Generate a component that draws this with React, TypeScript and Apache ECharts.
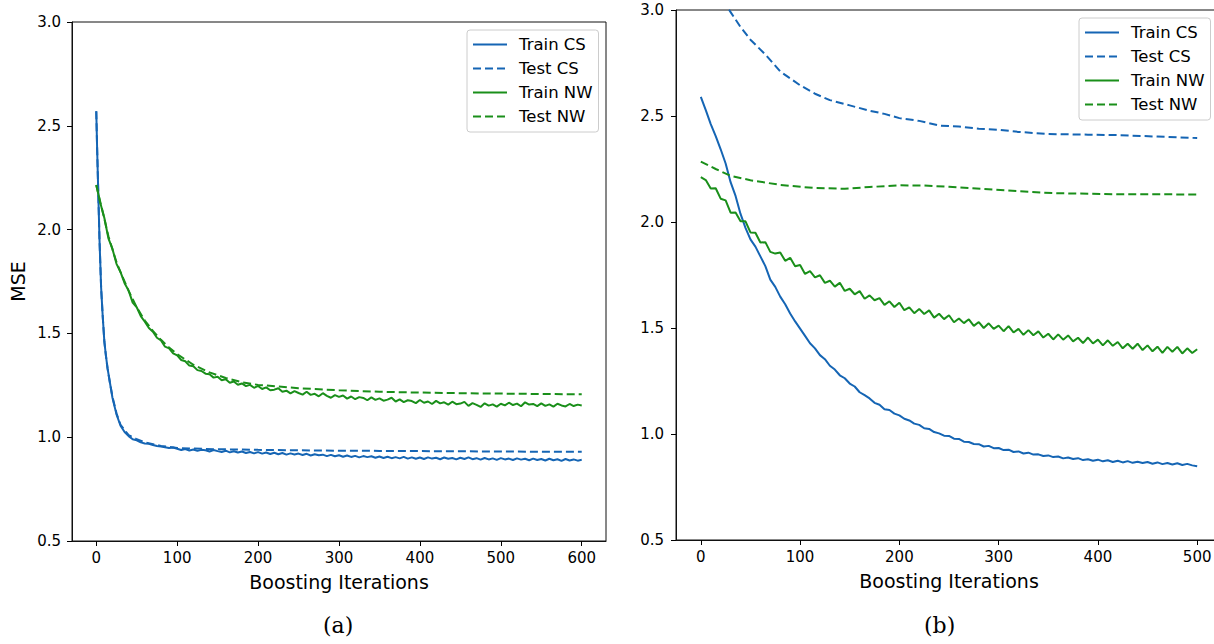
import React, { useEffect, useRef } from "react";
import * as echarts from "echarts";

const BLUE = "#1565b4";
const GREEN = "#1a8f1a";
const FONT = "DejaVu Sans";

const seriesNames = ["Train CS", "Test CS", "Train NW", "Test NW"];
const xTicksA = [0, 100, 200, 300, 400, 500, 600];
const xTicksB = [0, 100, 200, 300, 400, 500];
const panelLabels = ["(a)", "(b)"];
const xAxisTitle = "Boosting Iterations";
const yAxisTitle = "MSE";

function stepRange(start: number, end: number, step: number): number[] {
  const r: number[] = [];
  for (let v = start; v <= end; v += step) r.push(v);
  return r;
}

// ---------- panel (a) ----------
const aTrainCsIters = [0, 1, 2, 3, 4, 6, 8, 10, 12, 14, 17, 20, ...stepRange(25, 600, 5)];
const aTrainCsValues = [
  2.57, 2.4, 2.25, 2.1, 1.95, 1.72, 1.58, 1.46, 1.39, 1.33, 1.26, 1.19,
  1.11, 1.055, 1.025, 1.005, 0.99, 0.985, 0.975, 0.97, 0.968, 0.962, 0.958, 0.955, 0.952, 0.948, 0.95,
  0.944, 0.938, 0.943, 0.936, 0.941, 0.934, 0.939, 0.937, 0.931, 0.938,
  0.933, 0.929, 0.935, 0.927, 0.932, 0.926, 0.931, 0.924, 0.929, 0.922,
  0.928, 0.921, 0.926, 0.919, 0.925, 0.918, 0.924, 0.916, 0.922, 0.917,
  0.921, 0.914, 0.92, 0.912, 0.918, 0.913, 0.916, 0.909, 0.915, 0.908,
  0.913, 0.906, 0.912, 0.905, 0.91, 0.903, 0.909, 0.904, 0.908, 0.901,
  0.907, 0.9, 0.906, 0.899, 0.904, 0.898, 0.905, 0.897, 0.903, 0.896,
  0.902, 0.895, 0.903, 0.897, 0.901, 0.894, 0.902, 0.896, 0.9, 0.893,
  0.901, 0.895, 0.903, 0.894, 0.899, 0.892, 0.9, 0.893, 0.898, 0.891,
  0.899, 0.893, 0.897, 0.89, 0.898, 0.892, 0.896, 0.889, 0.897, 0.89,
  0.895, 0.888, 0.896, 0.889, 0.894, 0.886, 0.895, 0.888, 0.893, 0.887,
  0.891,
];
const aTestCsIters = [0, 1, 2, 3, 4, 6, 8, 10, 12, 14, 17, 20, 25, 30, 40, 50, 60, 80, 100, 150, 200, 250, 300, 350, 400, 450, 500, 550, 600];
const aTestCsValues = [
  2.57, 2.4, 2.25, 2.1, 1.95, 1.72, 1.58, 1.46, 1.39, 1.33, 1.26, 1.195, 1.115, 1.06, 1.01, 0.99,
  0.975, 0.958, 0.948, 0.942, 0.939, 0.937, 0.935, 0.934, 0.933, 0.932, 0.931, 0.93, 0.93,
];
const aTrainNwIters = stepRange(0, 600, 5);
const aTrainNwValues = [
  2.215, 2.128, 2.056, 1.958, 1.907, 1.835, 1.795, 1.742, 1.706, 1.648,
  1.626, 1.583, 1.556, 1.526, 1.508, 1.479, 1.466, 1.436, 1.428, 1.404,
  1.394, 1.372, 1.366, 1.345, 1.342, 1.323, 1.319, 1.306, 1.303, 1.287,
  1.291, 1.274, 1.279, 1.262, 1.268, 1.253, 1.259, 1.246, 1.252, 1.238,
  1.247, 1.232, 1.24, 1.226, 1.229, 1.236, 1.219, 1.224, 1.211, 1.222,
  1.213, 1.205, 1.219, 1.204, 1.209, 1.197, 1.212, 1.199, 1.19, 1.203,
  1.194, 1.201, 1.186, 1.196, 1.183, 1.193, 1.189, 1.178, 1.192, 1.18,
  1.187, 1.176, 1.181, 1.19, 1.172, 1.182, 1.169, 1.178, 1.174, 1.164,
  1.179, 1.166, 1.172, 1.16, 1.175, 1.163, 1.168, 1.157, 1.171, 1.159,
  1.162, 1.17, 1.151, 1.164, 1.156, 1.146, 1.163, 1.152, 1.158, 1.147,
  1.161, 1.153, 1.166, 1.155, 1.162, 1.149, 1.168, 1.157, 1.16, 1.15,
  1.163, 1.151, 1.158, 1.147, 1.161, 1.153, 1.148, 1.16, 1.15, 1.157,
  1.153,
];
const aTestNwIters = [0, 5, 10, 15, 20, 25, 30, 40, 50, 60, 70, 80, 90, 100, 120, 140, 160, 180, 200, 250, 300, 350, 400, 450, 500, 550, 600];
const aTestNwValues = [
  2.215, 2.132, 2.052, 1.968, 1.905, 1.843, 1.795, 1.705, 1.626, 1.562, 1.512, 1.469, 1.432, 1.4,
  1.349, 1.312, 1.285, 1.265, 1.252, 1.236, 1.226, 1.219, 1.215, 1.212, 1.21, 1.208, 1.207,
];

// ---------- panel (b) ----------
const bTrainCsIters = stepRange(0, 500, 5);
const bTrainCsValues = [
  2.59, 2.528, 2.462, 2.405, 2.343, 2.276, 2.188, 2.123, 2.038, 1.972,
  1.918, 1.884, 1.838, 1.792, 1.728, 1.694, 1.648, 1.612, 1.568, 1.531,
  1.497, 1.463, 1.428, 1.404, 1.372, 1.353, 1.322, 1.304, 1.277, 1.263,
  1.238, 1.224, 1.197, 1.183, 1.168, 1.147, 1.138, 1.117, 1.113, 1.096,
  1.088, 1.072, 1.064, 1.049, 1.043, 1.027, 1.024, 1.009, 1.003, 0.992,
  0.991, 0.978, 0.977, 0.964, 0.962, 0.953, 0.952, 0.941, 0.944, 0.933,
  0.934, 0.924, 0.926, 0.915, 0.918, 0.908, 0.912, 0.903, 0.904, 0.896,
  0.899, 0.891, 0.894, 0.885, 0.889, 0.882, 0.886, 0.877, 0.881, 0.874,
  0.879, 0.871, 0.876, 0.868, 0.874, 0.866, 0.872, 0.864, 0.869, 0.863,
  0.868, 0.86, 0.866, 0.858, 0.863, 0.856, 0.862, 0.854, 0.859, 0.852,
  0.848,
];
const bTestCsIters = [0, 10, 20, 30, 40, 50, 65, 80, 100, 115, 130, 150, 170, 185, 200, 220, 240, 260, 280, 300, 320, 350, 390, 420, 460, 500];
const bTestCsValues = [
  3.25, 3.15, 3.06, 2.99, 2.92, 2.86, 2.79, 2.71, 2.645, 2.605, 2.575, 2.55, 2.525, 2.51, 2.49,
  2.477, 2.455, 2.45, 2.44, 2.435, 2.425, 2.415, 2.412, 2.41, 2.403, 2.396,
];
const bTrainNwIters = stepRange(0, 500, 5);
const bTrainNwValues = [
  2.212, 2.198, 2.158, 2.159, 2.11, 2.102, 2.044, 2.045, 2.004, 2.003,
  1.951, 1.949, 1.903, 1.905, 1.859, 1.851, 1.856, 1.817, 1.831, 1.791,
  1.797, 1.755, 1.768, 1.739, 1.749, 1.713, 1.723, 1.695, 1.713, 1.675,
  1.685, 1.659, 1.674, 1.638, 1.654, 1.631, 1.641, 1.609, 1.626, 1.599,
  1.619, 1.584, 1.597, 1.57, 1.59, 1.566, 1.583, 1.549, 1.567, 1.542,
  1.56, 1.527, 1.545, 1.523, 1.541, 1.51, 1.528, 1.5, 1.522, 1.496,
  1.511, 1.485, 1.509, 1.479, 1.496, 1.468, 1.49, 1.466, 1.484, 1.455,
  1.473, 1.446, 1.47, 1.445, 1.465, 1.437, 1.454, 1.429, 1.455, 1.427,
  1.445, 1.418, 1.442, 1.416, 1.434, 1.404, 1.426, 1.402, 1.426, 1.396,
  1.418, 1.39, 1.412, 1.383, 1.411, 1.388, 1.411, 1.38, 1.404, 1.382,
  1.4,
];
const bTestNwIters = [0, 15, 30, 50, 80, 115, 145, 170, 200, 225, 250, 285, 320, 355, 420, 500];
const bTestNwValues = [
  2.285, 2.25, 2.218, 2.197, 2.175, 2.16, 2.157, 2.165, 2.173, 2.172, 2.166, 2.156, 2.145, 2.136, 2.131, 2.13,
];

function zip(xs: number[], ys: number[]): number[][] {
  const n = Math.min(xs.length, ys.length);
  const out: number[][] = [];
  for (let i = 0; i < n; i++) out.push([xs[i], ys[i]]);
  return out;
}

const DASH = [8, 4];

function makeSeries(idx: number, name: string, color: string, dashed: boolean, data: number[][]) {
  return {
    type: "line",
    name,
    xAxisIndex: idx,
    yAxisIndex: idx,
    data,
    symbol: "none",
    showSymbol: false,
    silent: true,
    clip: true,
    lineStyle: { color, width: 2, type: dashed ? DASH : "solid" },
    itemStyle: { color },
    emphasis: { disabled: true },
  };
}

function makeXAxis(idx: number, min: number, max: number, ticks: number[]) {
  return {
    type: "value",
    gridIndex: idx,
    min,
    max,
    name: xAxisTitle,
    nameLocation: "middle",
    nameGap: 31,
    nameTextStyle: { fontSize: 19, color: "#000", fontFamily: FONT },
    axisLine: { show: true, onZero: false, lineStyle: { color: "#111", width: 1 } },
    splitLine: { show: false },
    axisTick: { show: true, inside: false, length: 5, lineStyle: { color: "#000", width: 1 }, customValues: ticks },
    axisLabel: { customValues: ticks, margin: 9, fontSize: 15, color: "#000", fontFamily: FONT },
  };
}

function makeYAxis(idx: number, withName: boolean, margin: number) {
  return {
    type: "value",
    gridIndex: idx,
    min: 0.5,
    max: 3.0,
    interval: 0.5,
    name: withName ? yAxisTitle : "",
    nameLocation: "middle",
    nameGap: 45,
    nameRotate: 90,
    nameTextStyle: { fontSize: 19, color: "#000", fontFamily: FONT },
    axisLine: { show: true, onZero: false, lineStyle: { color: "#111", width: 1 } },
    splitLine: { show: false },
    axisTick: { show: true, inside: false, length: 5, lineStyle: { color: "#000", width: 1 } },
    axisLabel: {
      margin,
      fontSize: 15,
      color: "#000",
      fontFamily: FONT,
      formatter: (v: number) => v.toFixed(1),
    },
  };
}

function makeLegend(left: number, top: number) {
  return {
    orient: "vertical",
    left,
    top,
    data: seriesNames,
    padding: [6, 6, 7, 5],
    itemWidth: 34,
    itemHeight: 14,
    itemGap: 7,
    borderColor: "#cccccc",
    borderWidth: 1,
    borderRadius: 3,
    backgroundColor: "rgba(255,255,255,0.8)",
    selectedMode: false,
    itemStyle: { opacity: 0, borderWidth: 0 },
    textStyle: { fontSize: 16.5, color: "#000", fontFamily: FONT, padding: [0, 0, 0, 7] },
  };
}

export default function App() {
  const ref = useRef<HTMLDivElement>(null);

  useEffect(() => {
    if (!ref.current) return;
    const chart = echarts.init(ref.current, undefined, { renderer: "svg" });
    const option = {
      animation: false,
      backgroundColor: "#fff",
      grid: [
        { left: 72, top: 22, width: 534, height: 519, show: true, borderColor: "#111", borderWidth: 1, backgroundColor: "transparent" },
        { left: 676, top: 10, width: 546, height: 530, show: true, borderColor: "#111", borderWidth: 1, backgroundColor: "transparent" },
      ],
      xAxis: [makeXAxis(0, -30, 630, xTicksA), makeXAxis(1, -25, 525, xTicksB)],
      yAxis: [makeYAxis(0, true, 11), makeYAxis(1, false, 12)],
      legend: [makeLegend(467, 30), makeLegend(1079, 18)],
      series: [
        makeSeries(0, seriesNames[0], BLUE, false, zip(aTrainCsIters, aTrainCsValues)),
        makeSeries(0, seriesNames[1], BLUE, true, zip(aTestCsIters, aTestCsValues)),
        makeSeries(0, seriesNames[2], GREEN, false, zip(aTrainNwIters, aTrainNwValues)),
        makeSeries(0, seriesNames[3], GREEN, true, zip(aTestNwIters, aTestNwValues)),
        makeSeries(1, seriesNames[0], BLUE, false, zip(bTrainCsIters, bTrainCsValues)),
        makeSeries(1, seriesNames[1], BLUE, true, zip(bTestCsIters, bTestCsValues)),
        makeSeries(1, seriesNames[2], GREEN, false, zip(bTrainNwIters, bTrainNwValues)),
        makeSeries(1, seriesNames[3], GREEN, true, zip(bTestNwIters, bTestNwValues)),
      ],
      graphic: [
        {
          type: "text",
          left: 339 - 16,
          top: 614,
          style: { text: panelLabels[0], fontSize: 22, fontFamily: "DejaVu Serif", fill: "#000" },
        },
        {
          type: "text",
          left: 940 - 16,
          top: 614,
          style: { text: panelLabels[1], fontSize: 22, fontFamily: "DejaVu Serif", fill: "#000" },
        },
      ],
    };
    chart.setOption(option as any);
    return () => chart.dispose();
  }, []);

  return (
    <div style={{ position: "absolute", left: 0, top: 0, width: 1214, height: 644, overflow: "hidden", background: "#fff" }}>
      <div ref={ref} style={{ width: 1240, height: 644 }} />
    </div>
  );
}
